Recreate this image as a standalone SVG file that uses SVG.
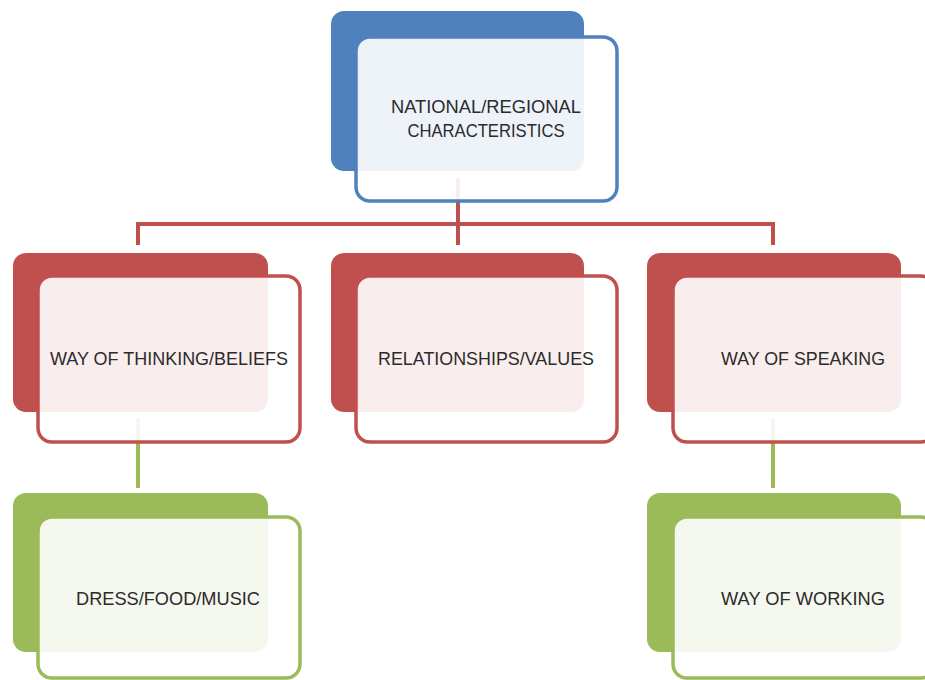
<svg xmlns="http://www.w3.org/2000/svg" width="925" height="680" viewBox="0 0 925 680">
<style>
.bk{stroke:none}
.fr{fill:#ffffff;fill-opacity:0.9;stroke-width:3.5}
.blue .bk{fill:#4f81bd}.blue .fr{stroke:#4f81bd}
.red .bk{fill:#c0504d}.red .fr{stroke:#c0504d}
.green .bk{fill:#9bbb59}.green .fr{stroke:#9bbb59}
text{font-family:"Liberation Sans",Arial,sans-serif;font-size:18px;fill:#2b2b2b;text-anchor:middle}
.cr{fill:none;stroke:#c0504d;stroke-width:4}
.cg{fill:none;stroke:#9bbb59;stroke-width:4}
</style>
<rect width="925" height="680" fill="#ffffff"/>
<g id="connectors">
<path class="cr" d="M458 178 V245 M138 245 V224 H773 V245"/>
<path class="cg" d="M138 418 V488"/>
<path class="cg" d="M773 418 V488"/>
</g>
<g id="n-top" class="blue">
<rect class="bk" x="331" y="11" width="253" height="160" rx="13"/>
<rect class="fr" x="356" y="37" width="261" height="164" rx="14"/>
<text x="486" y="113" textLength="190" lengthAdjust="spacingAndGlyphs">NATIONAL/REGIONAL</text>
<text x="486" y="137" textLength="157" lengthAdjust="spacingAndGlyphs">CHARACTERISTICS</text>
</g>
<g id="n-thinking" class="red">
<rect class="bk" x="13" y="253" width="255" height="159" rx="13"/>
<rect class="fr" x="38" y="276" width="262" height="166" rx="14"/>
<text x="169" y="365" textLength="238" lengthAdjust="spacingAndGlyphs">WAY OF THINKING/BELIEFS</text>
</g>
<g id="n-relationships" class="red">
<rect class="bk" x="331" y="253" width="253" height="159" rx="13"/>
<rect class="fr" x="356" y="276" width="261" height="166" rx="14"/>
<text x="486" y="365" textLength="216" lengthAdjust="spacingAndGlyphs">RELATIONSHIPS/VALUES</text>
</g>
<g id="n-speaking" class="red">
<rect class="bk" x="647" y="253" width="254" height="159" rx="13"/>
<rect class="fr" x="673" y="276" width="262" height="166" rx="14"/>
<text x="803" y="365" textLength="164" lengthAdjust="spacingAndGlyphs">WAY OF SPEAKING</text>
</g>
<g id="n-dress" class="green">
<rect class="bk" x="13" y="493" width="255" height="159" rx="13"/>
<rect class="fr" x="38" y="517" width="262" height="161" rx="14"/>
<text x="168" y="605" textLength="184" lengthAdjust="spacingAndGlyphs">DRESS/FOOD/MUSIC</text>
</g>
<g id="n-working" class="green">
<rect class="bk" x="647" y="493" width="254" height="159" rx="13"/>
<rect class="fr" x="673" y="517" width="262" height="161" rx="14"/>
<text x="803" y="605" textLength="164" lengthAdjust="spacingAndGlyphs">WAY OF WORKING</text>
</g>
</svg>
